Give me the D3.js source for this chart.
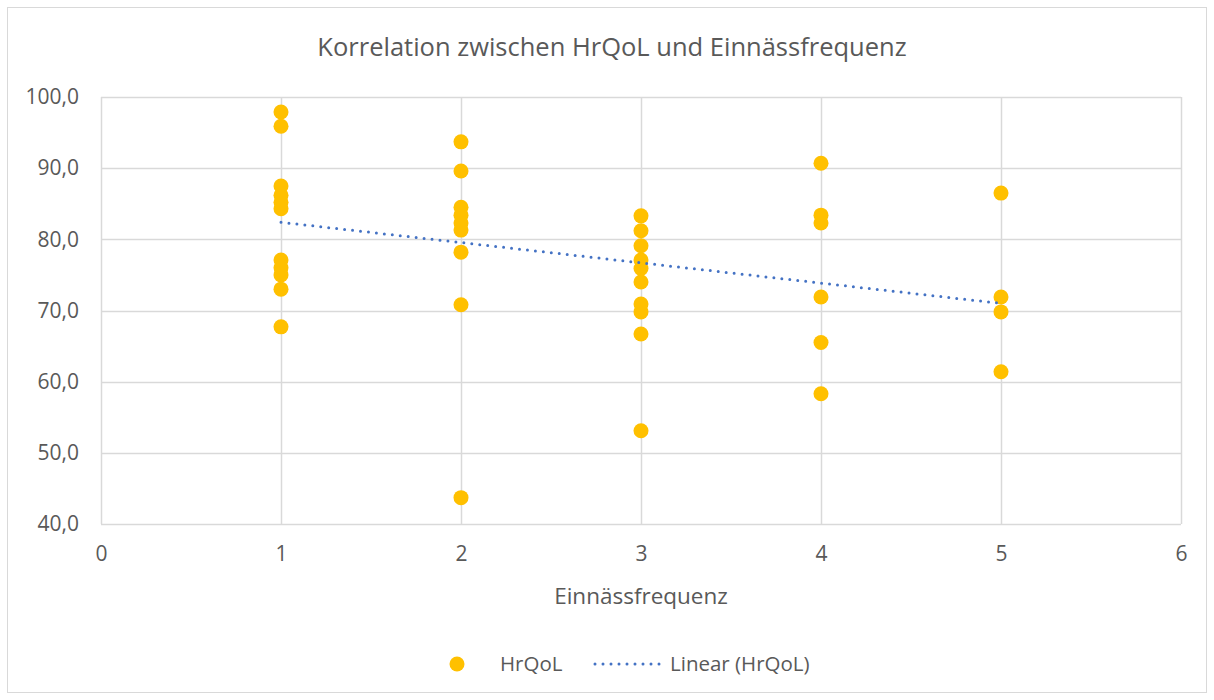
<!DOCTYPE html>
<html>
<head>
<meta charset="utf-8">
<script src="https://cdn.jsdelivr.net/npm/d3@7"></script>
<style>
  body { margin: 0; background: #fff; }
  text { font-family: "Open Sans", sans-serif; fill: #595959; }
</style>
</head>
<body>
<script>
// HrQoL values per Einnässfrequenz group
var freq1 = [97.9, 95.9, 87.5, 86.2, 85.2, 84.3, 77.1, 76.0, 75.0, 73.0, 67.7];
var freq2 = [93.7, 89.6, 84.5, 83.4, 82.3, 81.3, 78.2, 70.8, 43.7];
var freq3 = [83.3, 81.2, 79.1, 77.1, 75.9, 74.0, 70.9, 69.8, 66.7, 53.1];
var freq4 = [90.7, 83.4, 82.3, 71.9, 65.5, 58.3];
var freq5 = [86.5, 71.9, 69.8, 61.4];
var groups = [1, 2, 3, 4, 5];

// linear trendline end points
var trendX = [1, 5];
var trendY = [82.4, 71.0];

var xTicks = [0, 1, 2, 3, 4, 5, 6];
var yTicks = [40, 50, 60, 70, 80, 90, 100];

var svgwidth = 1214,
    svgheight = 700;

var points = [];
[freq1, freq2, freq3, freq4, freq5].forEach(function(vals, i) {
  vals.forEach(function(v) { points.push({x: groups[i], y: v}); });
});

var svg = d3.select("body").append("svg")
    .attr("width", svgwidth)
    .attr("height", svgheight);

// chart border
svg.append("rect")
    .attr("x", 7.5).attr("y", 7.5)
    .attr("width", 1199).attr("height", 685)
    .attr("fill", "#fff")
    .attr("stroke", "#d9d9d9");

var x = d3.scaleLinear().domain([0, 6]).range([101, 1181]),
    y = d3.scaleLinear().domain([40, 100]).range([524, 97]);

// title
svg.append("text")
    .attr("x", 612).attr("y", 56)
    .attr("text-anchor", "middle")
    .style("font-size", "25.5px")
    .text("Korrelation zwischen HrQoL und Einnässfrequenz");

// gridlines
var g = svg.append("g");
g.selectAll(".hgrid")
  .data(yTicks)
  .enter().append("line")
    .attr("x1", x(0)).attr("x2", x(6))
    .attr("y1", function(d) { return Math.round(y(d)) + 0.5; })
    .attr("y2", function(d) { return Math.round(y(d)) + 0.5; })
    .attr("stroke", "#d9d9d9").attr("stroke-width", 1.5);
g.selectAll(".vgrid")
  .data(xTicks)
  .enter().append("line")
    .attr("y1", y(40)).attr("y2", y(100))
    .attr("x1", function(d) { return Math.round(x(d)) + 0.5; })
    .attr("x2", function(d) { return Math.round(x(d)) + 0.5; })
    .attr("stroke", "#d9d9d9").attr("stroke-width", 1.5);

// axes (labels only)
var fmt = function(d) { return d3.format(".1f")(d).replace(".", ","); };
var yAxis = svg.append("g")
    .attr("transform", "translate(" + x(0) + ",0)")
    .call(d3.axisLeft(y).tickValues(yTicks).tickFormat(fmt).tickSize(0).tickPadding(22));
var xAxis = svg.append("g")
    .attr("transform", "translate(0," + y(40) + ")")
    .call(d3.axisBottom(x).tickValues(xTicks).tickFormat(d3.format("d")).tickSize(0).tickPadding(22));
[yAxis, xAxis].forEach(function(a) {
  a.select(".domain").remove();
  a.selectAll("text")
    .style("font-size", "21px")
    .style("font-family", "'Open Sans', sans-serif")
    .attr("fill", "#595959");
});

// x axis title
svg.append("text")
    .attr("x", 641).attr("y", 604)
    .attr("text-anchor", "middle")
    .style("font-size", "22.5px")
    .text("Einnässfrequenz");

// points
svg.selectAll(".dot")
  .data(points)
  .enter().append("circle")
    .attr("class", "dot")
    .attr("cx", function(d) { return x(d.x); })
    .attr("cy", function(d) { return y(d.y); })
    .attr("r", 7.5)
    .attr("fill", "#ffc000");

// trendline
var line = d3.line()
    .x(function(d) { return x(d[0]); })
    .y(function(d) { return y(d[1]); });
svg.append("path")
    .datum(d3.zip(trendX, trendY))
    .attr("d", line)
    .attr("fill", "none")
    .attr("stroke", "#4472c4")
    .attr("stroke-width", 3)
    .attr("stroke-linecap", "round")
    .attr("stroke-dasharray", "0 8");

// legend
var legend = svg.append("g");
legend.append("circle")
    .attr("cx", 457).attr("cy", 664).attr("r", 7.5)
    .attr("fill", "#ffc000");
legend.append("text")
    .attr("x", 500).attr("y", 671)
    .style("font-size", "20.5px")
    .text("HrQoL");
legend.append("line")
    .attr("x1", 595).attr("x2", 661)
    .attr("y1", 664).attr("y2", 664)
    .attr("stroke", "#4472c4")
    .attr("stroke-width", 3)
    .attr("stroke-linecap", "round")
    .attr("stroke-dasharray", "0 8");
legend.append("text")
    .attr("x", 670).attr("y", 671)
    .style("font-size", "20.5px")
    .text("Linear (HrQoL)");
</script>
</body>
</html>
